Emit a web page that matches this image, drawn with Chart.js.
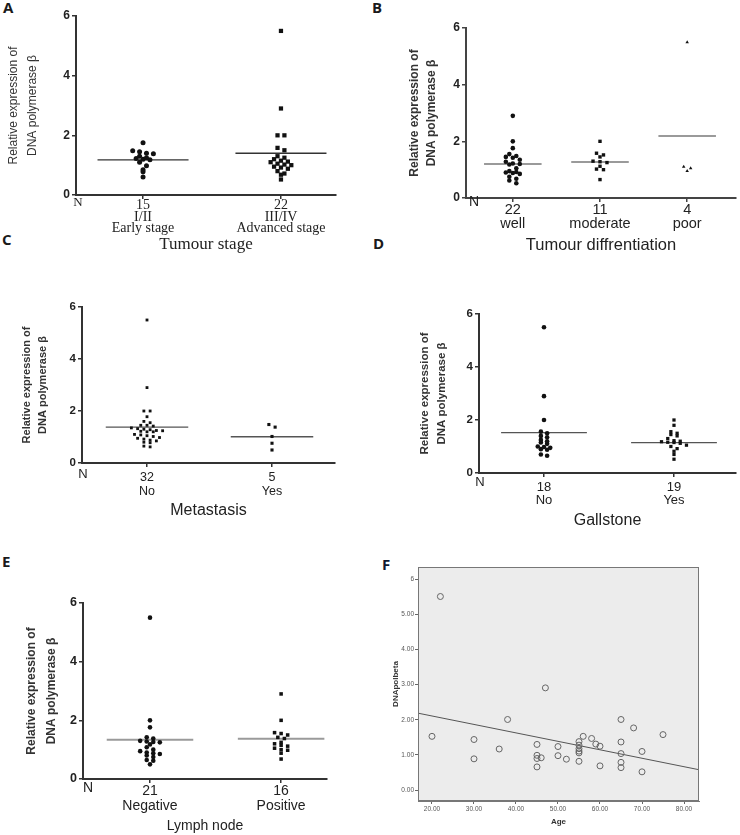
<!DOCTYPE html>
<html>
<head>
<meta charset="utf-8">
<script src="https://cdn.jsdelivr.net/npm/chart.js@4.4.1/dist/chart.umd.min.js"></script>
<style>
  body { margin: 0; background: #fff; width: 740px; height: 835px; position: relative; overflow: hidden; font-family: "Liberation Sans", Arial, sans-serif; }
  canvas { position: absolute; }
  .panel { position: absolute; font-weight: bold; font-size: 15px; line-height: 15px; color: #1a1a1a; font-family: "Open Sans", "Liberation Sans", sans-serif; }
</style>
</head>
<body>
<div class="panel" style="left:3px;top:0px">A</div>
<div class="panel" style="left:372px;top:0px">B</div>
<div class="panel" style="left:2px;top:232px">C</div>
<div class="panel" style="left:373px;top:236px">D</div>
<div class="panel" style="left:2px;top:554px">E</div>
<div class="panel" style="left:382px;top:557px;color:#101830">F</div>

<canvas id="chartA" width="370" height="255" style="left:0;top:0"></canvas>
<canvas id="chartB" width="340" height="255" style="left:400px;top:0"></canvas>
<canvas id="chartC" width="370" height="240" style="left:0;top:280px"></canvas>
<canvas id="chartD" width="340" height="250" style="left:400px;top:280px"></canvas>
<canvas id="chartE" width="370" height="275" style="left:0;top:560px"></canvas>
<canvas id="chartF" width="370" height="275" style="left:370px;top:560px"></canvas>

<script>
Chart.defaults.font.family = "'Liberation Sans', Arial, sans-serif";

const yTitleLines = ["Relative expression of", "DNA polymerase \u03b2"];
const nLabelText = "N";

// A - tumour stage
const stageLabels = [["15", "I/II", "Early stage"], ["22", "III/IV", "Advanced stage"]];
const stageEarly = [1.75, 1.48, 1.45, 1.40, 1.38, 1.30, 1.25, 1.22, 1.20, 1.18, 1.10, 0.98, 0.85, 0.78, 0.60];
const stageAdvanced = [5.5, 2.9, 2.0, 2.0, 1.58, 1.5, 1.3, 1.25, 1.2, 1.15, 1.12, 1.1, 1.05, 1.02, 1.0, 0.95, 0.92, 0.88, 0.8, 0.72, 0.68, 0.52];
const stageMeans = [1.18, 1.40];

// B - differentiation
const diffLabels = [["22", "well"], ["11", "moderate"], ["4", "poor"]];
const diffWell = [2.9, 2.0, 1.76, 1.55, 1.48, 1.45, 1.42, 1.35, 1.28, 1.22, 1.2, 1.18, 1.05, 0.95, 0.92, 0.9, 0.88, 0.85, 0.75, 0.68, 0.62, 0.52];
const diffModerate = [2.0, 1.58, 1.52, 1.45, 1.3, 1.28, 1.25, 1.12, 1.02, 1.0, 0.65];
const diffPoor = [5.5, 1.1, 1.05, 0.95];
const diffMeans = [1.20, 1.27, 2.19];

// C - metastasis
const metaLabels = [["32", "No"], ["5", "Yes"]];
const metaNo = [5.5, 2.9, 2.0, 2.0, 1.78, 1.6, 1.55, 1.45, 1.45, 1.42, 1.35, 1.32, 1.3, 1.28, 1.25, 1.24, 1.22, 1.2, 1.2, 1.1, 1.08, 1.05, 1.02, 0.98, 0.95, 0.92, 0.88, 0.85, 0.8, 0.78, 0.65, 0.62];
const metaYes = [1.48, 1.38, 1.02, 0.76, 0.5];
const metaMeans = [1.38, 1.01];

// D - gallstone
const gallLabels = [["18", "No"], ["19", "Yes"]];
const gallNo = [5.5, 2.9, 2.0, 1.56, 1.5, 1.4, 1.35, 1.25, 1.2, 1.15, 1.1, 1.0, 0.98, 0.95, 0.9, 0.88, 0.7, 0.65];
const gallYes = [2.0, 1.8, 1.56, 1.5, 1.45, 1.4, 1.3, 1.22, 1.2, 1.18, 1.16, 1.15, 1.12, 1.05, 1.0, 0.92, 0.82, 0.7, 0.52];
const gallMeans = [1.52, 1.15];

// E - lymph node
const lymphLabels = [["21", "Negative"], ["16", "Positive"]];
const lymphNeg = [5.5, 2.0, 1.76, 1.42, 1.38, 1.3, 1.28, 1.26, 1.25, 1.18, 1.08, 1.0, 0.95, 0.9, 0.88, 0.85, 0.8, 0.75, 0.65, 0.62, 0.5];
const lymphPos = [2.9, 2.0, 1.58, 1.55, 1.5, 1.42, 1.38, 1.25, 1.2, 1.15, 1.12, 1.05, 1.0, 0.98, 0.88, 0.68];
const lymphMeans = [1.34, 1.37];

// F - age vs DNA pol beta
const ages = [22, 20, 30, 30, 36, 38, 45, 45, 45, 46, 45, 47, 50, 50, 52, 55, 55, 55, 55, 55, 55, 56, 58, 59, 60, 60, 65, 65, 65, 65, 65, 68, 70, 70, 75];
const polBeta = [5.51, 1.53, 1.44, 0.89, 1.17, 2.01, 1.30, 0.99, 0.90, 0.92, 0.66, 2.91, 1.24, 0.98, 0.88, 1.38, 1.28, 1.18, 1.11, 1.06, 0.82, 1.53, 1.47, 1.31, 1.25, 0.69, 2.01, 1.37, 1.04, 0.79, 0.64, 1.77, 1.10, 0.52, 1.58];
const fitAges = [16.67, 83.57];
const fitValues = [2.19, 0.58];
const ageTicks = [20, 30, 40, 50, 60, 70, 80];
const polTicks = [0, 1, 2, 3, 4, 5, 6];
const polTickLabels = ["0.00", "1.00", "2.00", "3.00", "4.00", "5.00", "6"];

// spread points of similar value side by side, like a dot plot
function swarm(values, cat, gap, rowH) {
  const rows = {};
  values.forEach(v => {
    const k = Math.round(v / rowH);
    (rows[k] = rows[k] || []).push(v);
  });
  const pts = [];
  Object.values(rows).forEach(r => {
    r.forEach((v, i) => pts.push({ x: cat + (i - (r.length - 1) / 2) * gap, y: v }));
  });
  return pts;
}

const nPlugin = {
  id: "nLabel",
  afterDraw(chart, args, opts) {
    const s = chart.scales.x, c = chart.ctx;
    c.save();
    c.font = opts.font;
    c.fillStyle = "#222";
    c.textAlign = "center";
    c.textBaseline = "middle";
    c.fillText(nLabelText, s.left + opts.dx, s.top + opts.dy);
    c.restore();
  }
};

function dotPlot(id, o) {
  const datasets = [];
  o.groups.forEach((g, i) => {
    const cat = i + 1;
    datasets.push({
      type: "scatter",
      data: swarm(g, cat, o.gap, o.rowH),
      pointStyle: o.styles[i],
      pointRadius: o.radius[i],
      backgroundColor: "#111",
      borderColor: "#111",
      borderWidth: 0
    });
    datasets.push({
      type: "line",
      data: [{ x: cat - 0.33, y: o.means[i] }, { x: cat + 0.33, y: o.means[i] }],
      borderColor: o.meanColor,
      borderWidth: o.meanWidth,
      pointRadius: 0,
      fill: false
    });
  });

  new Chart(document.getElementById(id), {
    type: "scatter",
    data: { datasets },
    options: {
      responsive: false,
      animation: false,
      devicePixelRatio: 1,
      layout: { padding: { top: o.padTop, right: o.padRight, left: 0, bottom: 0 } },
      plugins: { legend: { display: false }, tooltip: { enabled: false }, nLabel: o.n },
      scales: {
        x: {
          type: "linear",
          min: o.xMin,
          max: o.xMax,
          afterBuildTicks: s => { s.ticks = o.labels.map((l, i) => ({ value: i + 1 })); },
          afterFit: s => { s.height = o.xH; },
          ticks: { autoSkip: false, maxRotation: 0, padding: o.xTickPad, color: "#222", font: o.xFont,
                   callback: (v, i) => o.labels[i] },
          grid: { drawOnChartArea: false, tickLength: 4, color: o.axisColor, lineWidth: 1.5 },
          border: { color: o.axisColor, width: 2 },
          title: { display: true, text: o.xTitle, color: "#222", font: o.xTitleFont, padding: 0 }
        },
        y: {
          min: 0,
          max: 6,
          afterFit: s => { s.width = o.yW; },
          ticks: { stepSize: 2, color: "#222", font: o.yTickFont, padding: 2 },
          grid: { drawOnChartArea: false, tickLength: 4, color: o.axisColor, lineWidth: 1.5 },
          border: { color: o.axisColor, width: 2 },
          title: { display: true, text: yTitleLines, color: "#333", font: o.yTitleFont,
                   padding: { top: o.yTitlePad, bottom: 0 } }
        }
      }
    },
    plugins: [nPlugin]
  });
}

dotPlot("chartA", {
  groups: [stageEarly, stageAdvanced], means: stageMeans, labels: stageLabels,
  styles: ["circle", "rect"], radius: [2.5, 3], gap: 0.05, rowH: 0.13,
  meanColor: "#333", meanWidth: 1.3, axisColor: "#333",
  xMin: 0.514, xMax: 2.399, yW: 76, xH: 60, padTop: 16, padRight: 34,
  xFont: { family: "'Liberation Serif', serif", size: 14, lineHeight: "11.5px" }, xTickPad: 1,
  xTitle: "Tumour stage", xTitleFont: { family: "'Liberation Serif', serif", size: 17, lineHeight: 1.2 },
  yTickFont: { size: 12, weight: "bold" },
  yTitleFont: { size: 12, lineHeight: "19px" }, yTitlePad: 4.5,
  n: { dx: 2, dy: 8, font: "13px 'Liberation Serif'" }
});

dotPlot("chartB", {
  groups: [diffWell, diffModerate, diffPoor], means: diffMeans, labels: diffLabels,
  styles: ["circle", "rect", "triangle"], radius: [2.3, 2.4, 2], gap: 0.08, rowH: 0.14,
  meanColor: "#9a9a9a", meanWidth: 2, axisColor: "#444",
  xMin: 0.463, xMax: 3.56, yW: 66, xH: 57, padTop: 28, padRight: 3,
  xFont: { size: 14.5, lineHeight: "14px" }, xTickPad: 1,
  xTitle: "Tumour diffrentiation", xTitleFont: { size: 16.5, lineHeight: 1.2 },
  yTickFont: { size: 12, weight: "bold" },
  yTitleFont: { size: 12, weight: "bold", lineHeight: "17px" }, yTitlePad: 6.5,
  n: { dx: 8, dy: 4, font: "14px 'Liberation Sans'" }
});

dotPlot("chartC", {
  groups: [metaNo, metaYes], means: metaMeans, labels: metaLabels,
  styles: ["rect", "rect"], radius: [2, 2.2], gap: 0.05, rowH: 0.13,
  meanColor: "#555", meanWidth: 1.3, axisColor: "#333",
  xMin: 0.48, xMax: 2.504, yW: 82, xH: 57, padTop: 27, padRight: 35,
  xFont: { size: 12.5, lineHeight: "14px" }, xTickPad: 4,
  xTitle: "Metastasis", xTitleFont: { size: 16, lineHeight: 1.2 },
  yTickFont: { size: 11.5, weight: "bold" },
  yTitleFont: { size: 11, weight: "bold", lineHeight: "16px" }, yTitlePad: 19,
  n: { dx: 1, dy: 11, font: "13px 'Liberation Sans'" }
});

dotPlot("chartD", {
  groups: [gallNo, gallYes], means: gallMeans, labels: gallLabels,
  styles: ["circle", "rect"], radius: [2.3, 2.3], gap: 0.048, rowH: 0.14,
  meanColor: "#555", meanWidth: 1.3, axisColor: "#333",
  xMin: 0.5, xMax: 2.477, yW: 79, xH: 57, padTop: 34, padRight: 0,
  xFont: { size: 13, lineHeight: "13px" }, xTickPad: 3.5,
  xTitle: "Gallstone", xTitleFont: { size: 16, lineHeight: 1.2 },
  yTickFont: { size: 11.5, weight: "bold" },
  yTitleFont: { size: 11.5, weight: "bold", lineHeight: "17px" }, yTitlePad: 16.5,
  n: { dx: 1, dy: 9, font: "13px 'Liberation Sans'" }
});

dotPlot("chartE", {
  groups: [lymphNeg, lymphPos], means: lymphMeans, labels: lymphLabels,
  styles: ["circle", "rect"], radius: [2.3, 2.5], gap: 0.05, rowH: 0.13,
  meanColor: "#9a9a9a", meanWidth: 2, axisColor: "#333",
  xMin: 0.489, xMax: 2.35, yW: 83, xH: 56, padTop: 43, padRight: 43,
  xFont: { size: 14, lineHeight: "15px" }, xTickPad: 0.5,
  xTitle: "Lymph node", xTitleFont: { size: 14, lineHeight: 1.2 },
  yTickFont: { size: 12.5, weight: "bold" },
  yTitleFont: { size: 12, weight: "bold", lineHeight: "20px" }, yTitlePad: 22,
  n: { dx: 5, dy: 9, font: "14px 'Liberation Sans'" }
});

// F: SPSS-style scatter with fit line
const frame = {
  id: "frame",
  beforeDraw(chart) {
    const a = chart.chartArea, c = chart.ctx;
    c.save();
    c.fillStyle = "#ececec";
    c.fillRect(a.left, a.top, a.right - a.left, a.bottom - a.top);
    c.restore();
  },
  afterDatasetsDraw(chart) {
    const a = chart.chartArea, c = chart.ctx;
    c.save();
    c.strokeStyle = "#777";
    c.lineWidth = 1;
    c.strokeRect(a.left + 0.5, a.top + 0.5, a.right - a.left - 1, a.bottom - a.top - 1);
    c.restore();
  }
};

new Chart(document.getElementById("chartF"), {
  type: "scatter",
  data: {
    datasets: [
      {
        data: ages.map((a, i) => ({ x: a, y: polBeta[i] })),
        pointStyle: "circle", pointRadius: 3,
        borderColor: "#666", borderWidth: 1, backgroundColor: "rgba(0,0,0,0)"
      },
      {
        type: "line",
        data: fitAges.map((a, i) => ({ x: a, y: fitValues[i] })),
        borderColor: "#555", borderWidth: 1, pointRadius: 0, fill: false
      }
    ]
  },
  options: {
    responsive: false,
    animation: false,
    devicePixelRatio: 1,
    layout: { padding: { top: 7, right: 41, left: 0, bottom: 0 } },
    plugins: { legend: { display: false }, tooltip: { enabled: false } },
    scales: {
      x: {
        type: "linear", min: 16.67, max: 83.57,
        afterBuildTicks: s => { s.ticks = ageTicks.map(v => ({ value: v })); },
        afterFit: s => { s.height = 34; },
        ticks: { autoSkip: false, maxRotation: 0, padding: 1, color: "#555", font: { size: 6.5 },
                 callback: v => v.toFixed(2) },
        grid: { drawOnChartArea: false, tickLength: 3, color: "#666" },
        border: { color: "#777", width: 1 },
        title: { display: true, text: "Age", color: "#333", font: { size: 8, weight: "bold" },
                 padding: { top: 0, bottom: 8 } }
      },
      y: {
        min: -0.31, max: 6.35,
        afterBuildTicks: s => { s.ticks = polTicks.map(v => ({ value: v })); },
        afterFit: s => { s.width = 48; },
        ticks: { autoSkip: false, padding: 1, color: "#555", font: { size: 6.5 },
                 callback: (v, i) => polTickLabels[i] },
        grid: { drawOnChartArea: false, tickLength: 3, color: "#666" },
        border: { color: "#777", width: 1 },
        title: { display: true, text: "DNApolbeta", color: "#333", font: { size: 8, weight: "bold" },
                 padding: { top: 21, bottom: 0 } }
      }
    }
  },
  plugins: [frame]
});
</script>
</body>
</html>
